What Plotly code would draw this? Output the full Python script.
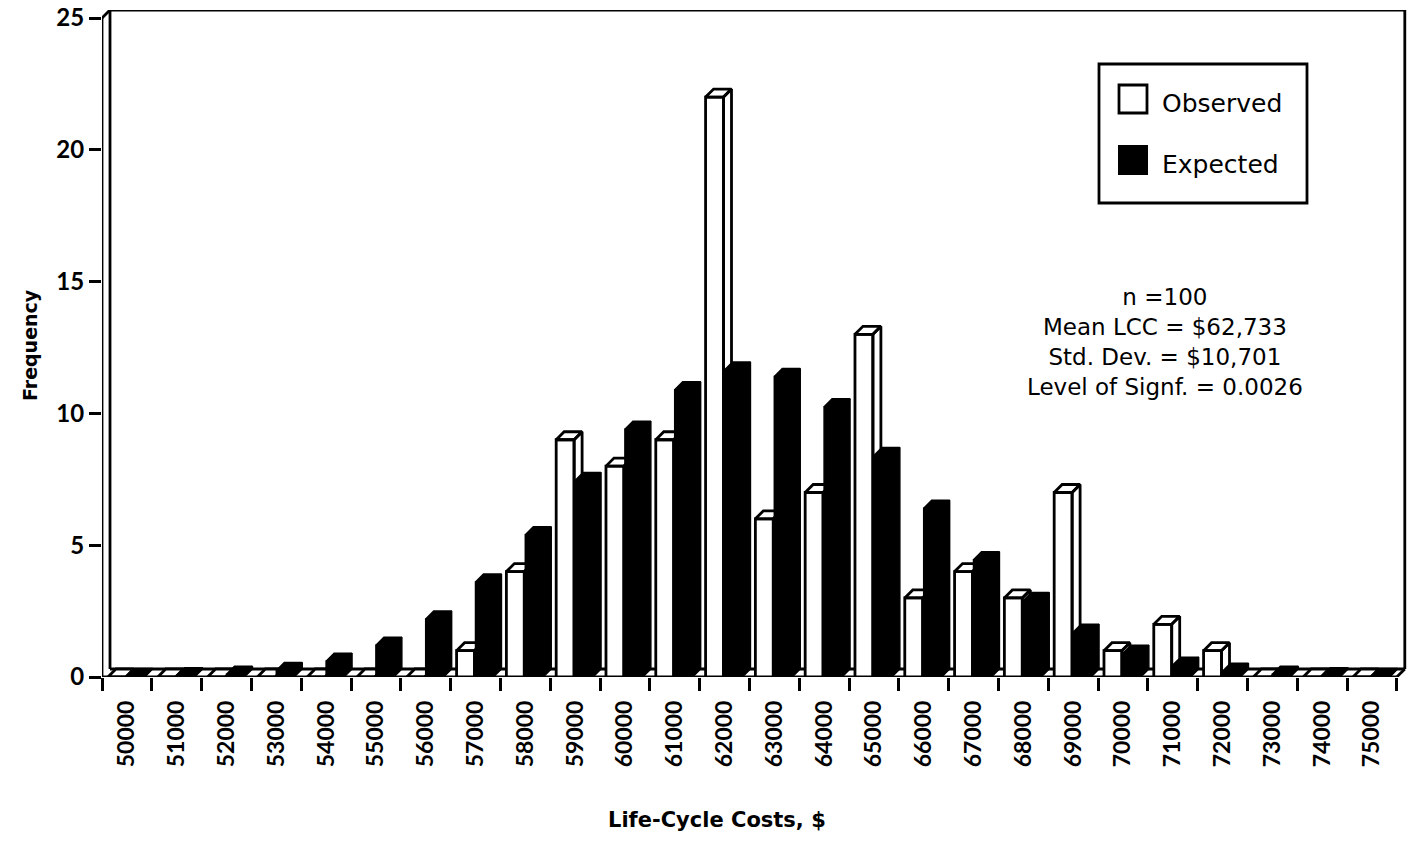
import plotly.graph_objects as go

# ---------------- data ----------------
categories = ["50000", "51000", "52000", "53000", "54000", "55000", "56000",
              "57000", "58000", "59000", "60000", "61000", "62000", "63000",
              "64000", "65000", "66000", "67000", "68000", "69000", "70000",
              "71000", "72000", "73000", "74000", "75000"]
observed = [0, 0, 0, 0, 0, 0, 0, 1, 4, 9, 8, 9, 22, 6, 7, 13, 3, 4, 3, 7, 1, 2, 1, 0, 0, 0]
expected = [0.02, 0.05, 0.1, 0.25, 0.6, 1.2, 2.2, 3.6, 5.4, 7.45, 9.4, 10.9, 11.65,
            11.4, 10.25, 8.4, 6.4, 4.45, 2.9, 1.7, 0.9, 0.45, 0.22, 0.1, 0.05, 0.02]
y_ticks = [0, 5, 10, 15, 20, 25]
stats_lines = ["n =100", "Mean LCC = $62,733", "Std. Dev. = $10,701", "Level of Signf. = 0.0026"]

# ---------------- geometry / style ----------------
W_PX, H_PX = 1409, 861
L, R, T, B = 102, 2, 10, 184
PX_PER_CAT = 49.8
PX_PER_UNIT = 26.36
plot_w = W_PX - L - R
plot_h = H_PX - T - B
x_range = [-0.5, -0.5 + plot_w / PX_PER_CAT]
y_range = [0, plot_h / PX_PER_UNIT]
DX = 8 / PX_PER_CAT      # 3-D depth (x, data units)
DY = 8 / PX_PER_UNIT     # 3-D depth (y, data units)

TICK_FONT = "Lato"
TEXT_FONT = "DejaVu Sans"


def px(xp):
    return (xp - L) / plot_w


def py(yp):
    return (H_PX - B - yp) / plot_h


def bar_polys(vals, x0, x1):
    xs, ys = [], []
    for i, v in enumerate(vals):
        a, b = i - 0.5 + x0, i - 0.5 + x1
        # front face
        xs += [a, b, b, a, a, None]
        ys += [0, 0, v, v, 0, None]
        # top face
        xs += [a, b, b + DX, a + DX, a, None]
        ys += [v, v, v + DY, v + DY, v, None]
        # side face
        xs += [b, b + DX, b + DX, b, b, None]
        ys += [0, DY, v + DY, v, 0, None]
    return xs, ys


fig = go.Figure()

ox, oy = bar_polys(observed, 0.12, 0.48)
fig.add_trace(go.Scatter(x=ox, y=oy, mode="lines", fill="toself", fillcolor="white",
                         line=dict(color="black", width=2.8), name="Observed",
                         hoverinfo="skip", showlegend=False))
ex, ey = bar_polys(expected, 0.50, 0.86)
fig.add_trace(go.Scatter(x=ex, y=ey, mode="lines", fill="toself", fillcolor="black",
                         line=dict(color="black", width=1.5), name="Expected",
                         hoverinfo="skip", showlegend=False))

# ---------------- frame ----------------
x_lo, x_hi = -0.5, len(categories) - 0.5
y_top = y_ticks[-1]
frame = [
    (x_lo, 0, x_lo, y_top),
    (x_lo, y_top, x_lo + DX, y_top + DY),
    (x_lo + DX, DY, x_lo + DX, y_top + DY),
    (x_lo + DX, y_top + DY, x_hi + DX, y_top + DY),
    (x_hi + DX, DY, x_hi + DX, y_top + DY),
    (x_hi, 0, x_hi + DX, DY),
    (x_lo, 0, x_hi, 0),
    (x_lo + DX, DY, x_hi + DX, DY),
]
shapes = []
for (xa, ya, xb, yb) in frame:
    shapes.append(dict(type="line", xref="x", yref="y", x0=xa, y0=ya, x1=xb, y1=yb,
                       line=dict(color="black", width=2.8), layer="below"))

# ---------------- legend (drawn) ----------------
shapes.append(dict(type="rect", xref="paper", yref="paper", x0=px(1099), x1=px(1307),
                   y0=py(203), y1=py(64), line=dict(color="black", width=2.8),
                   fillcolor="white", layer="above"))
shapes.append(dict(type="rect", xref="paper", yref="paper", x0=px(1119), x1=px(1147),
                   y0=py(113), y1=py(85), line=dict(color="black", width=2.8),
                   fillcolor="white", layer="above"))
shapes.append(dict(type="rect", xref="paper", yref="paper", x0=px(1119), x1=px(1147),
                   y0=py(174), y1=py(146), line=dict(color="black", width=2),
                   fillcolor="black", layer="above"))

annotations = [
    dict(text="Observed", xref="paper", yref="paper", x=px(1160), y=py(103),
         xanchor="left", yanchor="middle", showarrow=False,
         font=dict(family=TEXT_FONT, size=25, color="black")),
    dict(text="Expected", xref="paper", yref="paper", x=px(1160), y=py(164),
         xanchor="left", yanchor="middle", showarrow=False,
         font=dict(family=TEXT_FONT, size=25, color="black")),
    dict(text="<br>".join(stats_lines), xref="paper", yref="paper", x=px(1165), y=py(342),
         xanchor="center", yanchor="middle", align="center", showarrow=False,
         font=dict(family=TEXT_FONT, size=23, color="black")),
    dict(text="<b>Frequency</b>", xref="paper", yref="paper", x=px(30), y=py(345),
         xanchor="center", yanchor="middle", textangle=-90, showarrow=False,
         font=dict(family=TEXT_FONT, size=19, color="black")),
    dict(text="<b>Life-Cycle Costs, $</b>", xref="paper", yref="paper", x=px(717), y=py(820),
         xanchor="center", yanchor="middle", showarrow=False,
         font=dict(family=TEXT_FONT, size=21, color="black")),
]

fig.update_layout(
    width=W_PX, height=H_PX,
    margin=dict(l=L, r=R, t=T, b=B, pad=0),
    paper_bgcolor="white", plot_bgcolor="white",
    shapes=shapes, annotations=annotations,
    showlegend=False,
    xaxis=dict(range=x_range, showgrid=False, zeroline=False, showline=False,
               tickmode="array", tickvals=list(range(len(categories))), ticktext=categories,
               ticks="", tickangle=-90, ticklabelstandoff=18,
               tickfont=dict(family=TICK_FONT, size=23, color="black", weight=700),
               minor=dict(tickmode="array",
                          tickvals=[i - 0.5 for i in range(len(categories) + 1)],
                          ticks="outside", ticklen=13, tickwidth=2.5, tickcolor="black",
                          showgrid=False)),
    yaxis=dict(range=y_range, showgrid=False, zeroline=False, showline=False,
               tickmode="array", tickvals=y_ticks, ticks="outside", ticklen=12,
               tickwidth=2.5, tickcolor="black",
               tickfont=dict(family=TICK_FONT, size=24, color="black", weight=700)),
)

fig.write_html("out.html", config={"displayModeBar": False},
               post_script="document.body.style.margin='0';")
